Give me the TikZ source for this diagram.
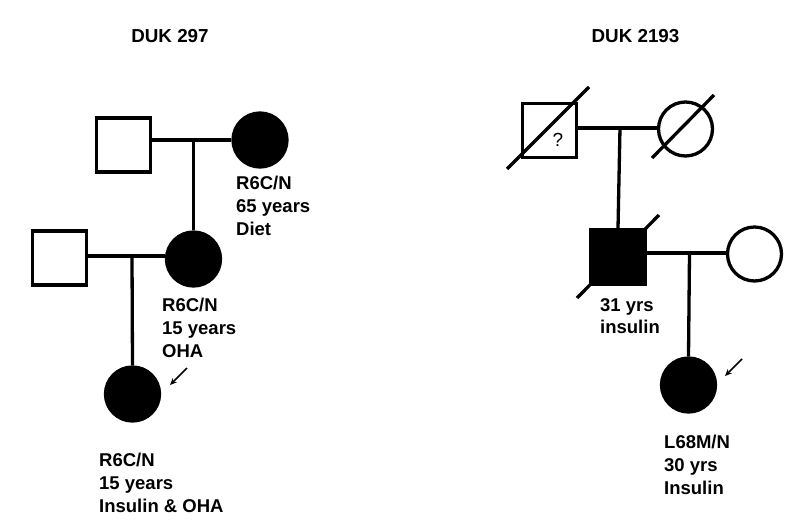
\documentclass[tikz,border=0pt]{standalone}
\usepackage{fontspec}
\setmainfont{Liberation Sans}
\usetikzlibrary{arrows.meta}
\begin{document}
\begin{tikzpicture}[x=1pt,y=-1pt,
  male/.style={draw,line width=3.3pt,minimum size=54pt,inner sep=0pt,rectangle},
  female/.style={draw,line width=3.3pt,minimum size=54pt,inner sep=0pt,circle},
  affected/.style={fill=black},
  rel/.style={line width=3.3pt},
  lbl/.style={anchor=north west,inner sep=0pt,align=left,font=\fontsize{18.5}{22.8}\selectfont\bfseries},
  ttl/.style={anchor=base,inner sep=0pt,font=\fontsize{18.8}{22}\selectfont\bfseries},
  proband/.style={line width=1.5pt,-{Stealth[length=7pt,width=6pt]}}]
\useasboundingbox (0,0) rectangle (800,523);
% titles
\node[ttl] (t1) at (170,42) {DUK 297};
\node[ttl] (t2) at (635.5,42) {DUK 2193};
% left pedigree
\node[male] (s1) at (123.5,145) {};
\node[female,affected] (c1) at (260,140) {};
\node[male] (s2) at (59.5,258) {};
\node[female,affected] (c2) at (193.5,259) {};
\node[female,affected] (c3) at (132.5,394) {};
\draw[rel] (c1.west) -- (c1.west -| s1.east);
\draw[rel] (c2.north) -- (c2.north |- c1.west);
\coordinate (m2) at (132,256);
\draw[rel] (s2.east |- m2) -- (c2.west |- m2);
\draw[rel] (m2) -- (c3.north);
\coordinate (a1) at (187,368);
\draw[proband] (a1) -- (170,385);
\node[lbl] (l1) at (236,176) {R6C/N\\65 years\\Diet};
\node[lbl] (l2) at (162,298) {R6C/N\\15 years\\OHA};
\node[lbl] (l3) at (99,453) {R6C/N\\15 years\\Insulin \& OHA};
% right pedigree
\node[male] (s3) at (549.5,130.5) {};
\node[font=\fontsize{19}{21}\selectfont] (q) at (558,140) {?};
\draw[rel] (507,169) -- (589,87);
\node[female] (c4) at (685.5,129) {};
\draw[rel] (652,158) -- (714,95);
\coordinate (m3) at (620,128);
\draw[rel] (s3.east |- m3) -- (c4.west |- m3);
\node[male,affected] (s4) at (618,257) {};
\draw[rel] (m3) -- (s4.north);
\draw[rel] (577,298) -- (659,215);
\node[female] (c5) at (754.5,254) {};
\coordinate (m4) at (689.5,253);
\draw[rel] (s4.east |- m4) -- (c5.west |- m4);
\node[female,affected] (c6) at (688.5,385) {};
\draw[rel] (m4) -- (c6.north);
\coordinate (a2) at (742,359);
\draw[proband] (a2) -- (725,376);
\node[lbl] (l4) at (600,298) {31 yrs\\insulin};
\node[lbl] (l5) at (664,435) {L68M/N\\30 yrs\\Insulin};
\end{tikzpicture}
\end{document}
